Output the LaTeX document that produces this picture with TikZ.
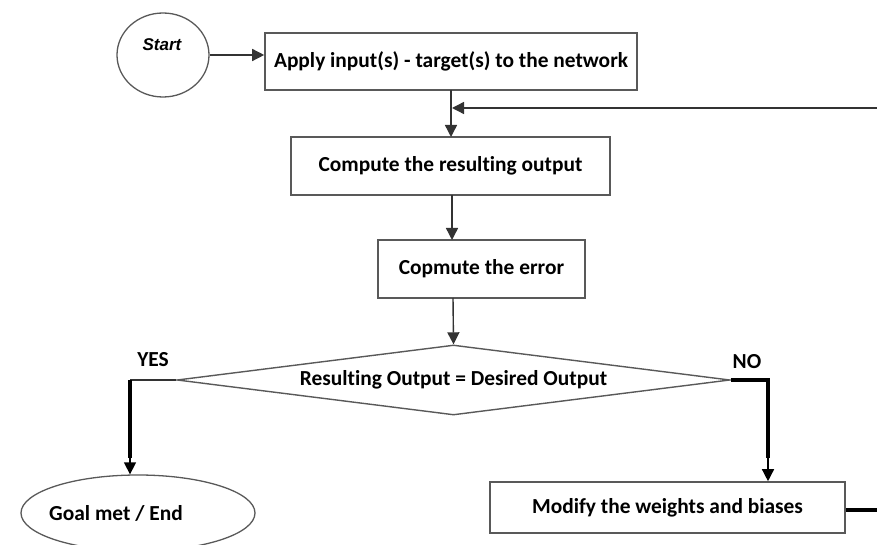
\documentclass[tikz,border=0pt]{standalone}
\usepackage{fontspec}
\setmainfont[Ligatures=NoCommon]{Carlito}
\newfontfamily\arialfont{Liberation Sans}
\usetikzlibrary{arrows.meta,shapes.geometric}

\begin{document}
\begin{tikzpicture}[x=1pt,y=-1pt,
  txt/.style={font=\bfseries\fontsize{21.4}{24}\selectfont},
  stepbox/.style={draw=black!65, line width=1.6pt, fill=white, inner sep=0pt, txt},
  oval/.style={ellipse, draw=black!65, line width=1.3pt, inner sep=0pt},
  decision/.style={diamond, draw=black!65, line width=1.4pt, inner sep=0pt, txt},
  flow/.style={draw=black!80, line width=1.4pt, -{Triangle[length=12pt,width=12pt]}},
  heavy/.style={draw=black, line width=3.2pt},
  tipdown/.style={draw=black, line width=1.4pt, -{Triangle[length=12pt,width=12pt]}}
]
\useasboundingbox (0,0) rectangle (877,545);

% terminal ovals
\node[oval, minimum width=92pt, minimum height=84pt] (start) at (163,55) {};
\node[font=\arialfont\bfseries\itshape\fontsize{17}{20}\selectfont] (starttxt) at (162,45) {Start};

\node[oval, minimum width=234pt, minimum height=76pt] (goal) at (138,513) {};
\node[txt] (goaltxt) at (116,513) {Goal met / End};

% process boxes
\node[stepbox, minimum width=372pt, minimum height=57pt] (apply) at (451,61.5) {Apply input(s) - target(s) to the network};
\node[stepbox, minimum width=319pt, minimum height=58pt] (compute) at (450.5,166) {Compute the resulting output};
\node[stepbox, minimum width=207pt, minimum height=58pt] (error) at (481.5,269) {Copmute the error};
\node[stepbox, minimum width=355pt, minimum height=51pt] (modify) at (667.5,507.5) {Modify the weights and biases};

% decision
\node[decision, minimum width=553pt, minimum height=70pt, aspect=7.9] (check) at (453.5,380) {Resulting Output = Desired Output};

% branch labels
\node[txt] (yes) at (153,360) {YES};
\node[txt] (no) at (747,362) {NO};

% free ends of the loop-back lines
\coordinate (loopin) at (877,108);
\coordinate (loopout) at (877,510);
\coordinate (yescorner) at (130,380);
\coordinate (nocorner) at (768,380);

% main chain
\draw[flow] (start.east) -- (apply.west |- start.east);
\draw[flow] (451,90) -- (451,137);
\draw[flow] (loopin) -- (452,108);
\draw[flow] (452,195) -- (452,240);
\draw[flow] (453,298) -- (check.north);

% YES branch
\draw[draw=black!80, line width=1.4pt] (check.west) -- (yescorner);
\draw[heavy] (yescorner) -- (130,458);
\draw[tipdown] (130,456) -- (goal.north -| 130,0);

% NO branch
\draw[heavy] (check.east) -- (nocorner) -- (768,458);
\draw[tipdown] (768,456) -- (modify.north -| 768,0);

% loop back
\draw[heavy] (modify.east |- loopout) -- (loopout);
\end{tikzpicture}
\end{document}
